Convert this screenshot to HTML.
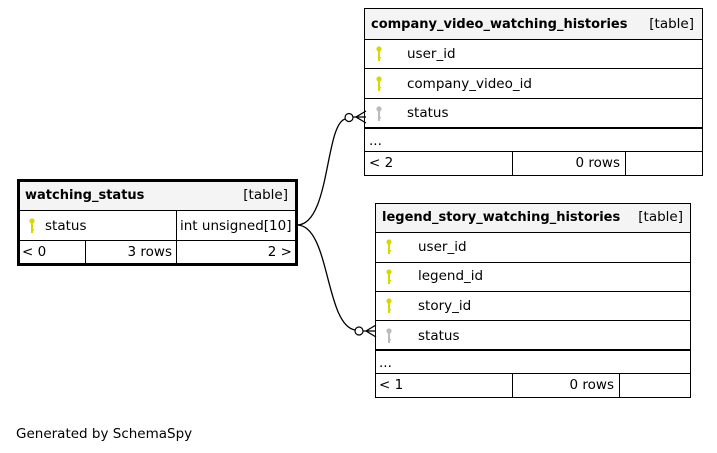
<!DOCTYPE html>
<html><head><meta charset="utf-8"><style>
html,body{margin:0;padding:0;background:#fff;}
svg{display:block;}
text{font-family:"DejaVu Sans","Liberation Sans",sans-serif;font-size:13.5px;fill:#000;}
.b{font-weight:bold;font-size:13px;}
</style></head><body>
<svg width="717" height="453" viewBox="0 0 717 453" xmlns="http://www.w3.org/2000/svg">
<defs>
<g id="key"><circle cx="0" cy="0" r="2.6" fill="currentColor"/><rect x="-1" y="0" width="2" height="12" fill="currentColor"/><rect x="0" y="8" width="2" height="1.5" fill="currentColor"/></g>
</defs>

<rect x="364.5" y="8.5" width="338" height="167" fill="#fff" stroke="#000"/>
<rect x="365" y="9" width="337" height="30" fill="#f4f4f4"/>
<g stroke="#000" stroke-width="1">
<line x1="364" y1="39.5" x2="703" y2="39.5"/>
<line x1="364" y1="68.5" x2="703" y2="68.5"/>
<line x1="364" y1="98.5" x2="703" y2="98.5"/>
<line x1="364" y1="128" x2="703" y2="128" stroke-width="2"/>
<line x1="364" y1="151.5" x2="703" y2="151.5"/>
<line x1="512.5" y1="151" x2="512.5" y2="176"/>
<line x1="625.5" y1="151" x2="625.5" y2="176"/>
</g>
<text x="371" y="28" class="b">company_video_watching_histories</text>
<text x="694" y="28" text-anchor="end">[table]</text>
<use href="#key" x="379" y="49" style="color:#d8d800"/>
<use href="#key" x="379" y="79" style="color:#d8d800"/>
<use href="#key" x="379" y="109" style="color:#bbb"/>
<text x="407" y="58">user_id</text>
<text x="407" y="88">company_video_id</text>
<text x="407" y="117">status</text>
<text x="369" y="145">...</text>
<text x="369" y="167">&lt; 2</text>
<text x="620" y="167" text-anchor="end">0 rows</text>

<rect x="375.5" y="203.5" width="315" height="194" fill="#fff" stroke="#000"/>
<rect x="376" y="204" width="314" height="28" fill="#f4f4f4"/>
<g stroke="#000" stroke-width="1">
<line x1="375" y1="232.5" x2="691" y2="232.5"/>
<line x1="375" y1="262.5" x2="691" y2="262.5"/>
<line x1="375" y1="291.5" x2="691" y2="291.5"/>
<line x1="375" y1="320.5" x2="691" y2="320.5"/>
<line x1="375" y1="350" x2="691" y2="350" stroke-width="2"/>
<line x1="375" y1="373.5" x2="691" y2="373.5"/>
<line x1="512.5" y1="373" x2="512.5" y2="398"/>
<line x1="619.5" y1="373" x2="619.5" y2="398"/>
</g>
<text x="382" y="221" class="b">legend_story_watching_histories</text>
<text x="683" y="221" text-anchor="end">[table]</text>
<use href="#key" x="389" y="242" style="color:#d8d800"/>
<use href="#key" x="389" y="272" style="color:#d8d800"/>
<use href="#key" x="389" y="301" style="color:#d8d800"/>
<use href="#key" x="389" y="331" style="color:#bbb"/>
<text x="418" y="251">user_id</text>
<text x="418" y="280">legend_id</text>
<text x="418" y="310">story_id</text>
<text x="418" y="340">status</text>
<text x="379" y="367">...</text>
<text x="379" y="389">&lt; 1</text>
<text x="614" y="389" text-anchor="end">0 rows</text>

<rect x="18.5" y="180.5" width="278" height="84" fill="#fff" stroke="#000" stroke-width="3"/>
<rect x="20" y="182" width="275" height="28" fill="#f4f4f4"/>
<g stroke="#000" stroke-width="1">
<line x1="18" y1="210.5" x2="297" y2="210.5"/>
<line x1="18" y1="240.5" x2="297" y2="240.5"/>
<line x1="176.5" y1="210" x2="176.5" y2="265"/>
<line x1="85.5" y1="240" x2="85.5" y2="265"/>
</g>
<text x="25" y="199" class="b">watching_status</text>
<text x="288" y="199" text-anchor="end">[table]</text>
<use href="#key" x="32" y="221" style="color:#d8d800"/>
<text x="45" y="230">status</text>
<text x="180" y="230">int unsigned[10]</text>
<text x="22" y="256">&lt; 0</text>
<text x="172" y="256" text-anchor="end">3 rows</text>
<text x="292" y="256" text-anchor="end">2 &gt;</text>

<g fill="none" stroke="#000" stroke-width="1.3">
<path d="M297,225 C330,225 325,125 345,119"/>
<path d="M297,225 C330,225 325,325 355,330"/>
<path d="M353,117 L366,117 M366,111 L356,117 L366,123"/>
<path d="M363,331 L376,331 M376,325 L366,331 L376,337"/>
</g>
<circle cx="349" cy="117.5" r="4" fill="#fff" stroke="#000" stroke-width="1.2"/>
<circle cx="359" cy="331" r="4" fill="#fff" stroke="#000" stroke-width="1.2"/>

<text x="16" y="438">Generated by SchemaSpy</text>
</svg>
</body></html>
